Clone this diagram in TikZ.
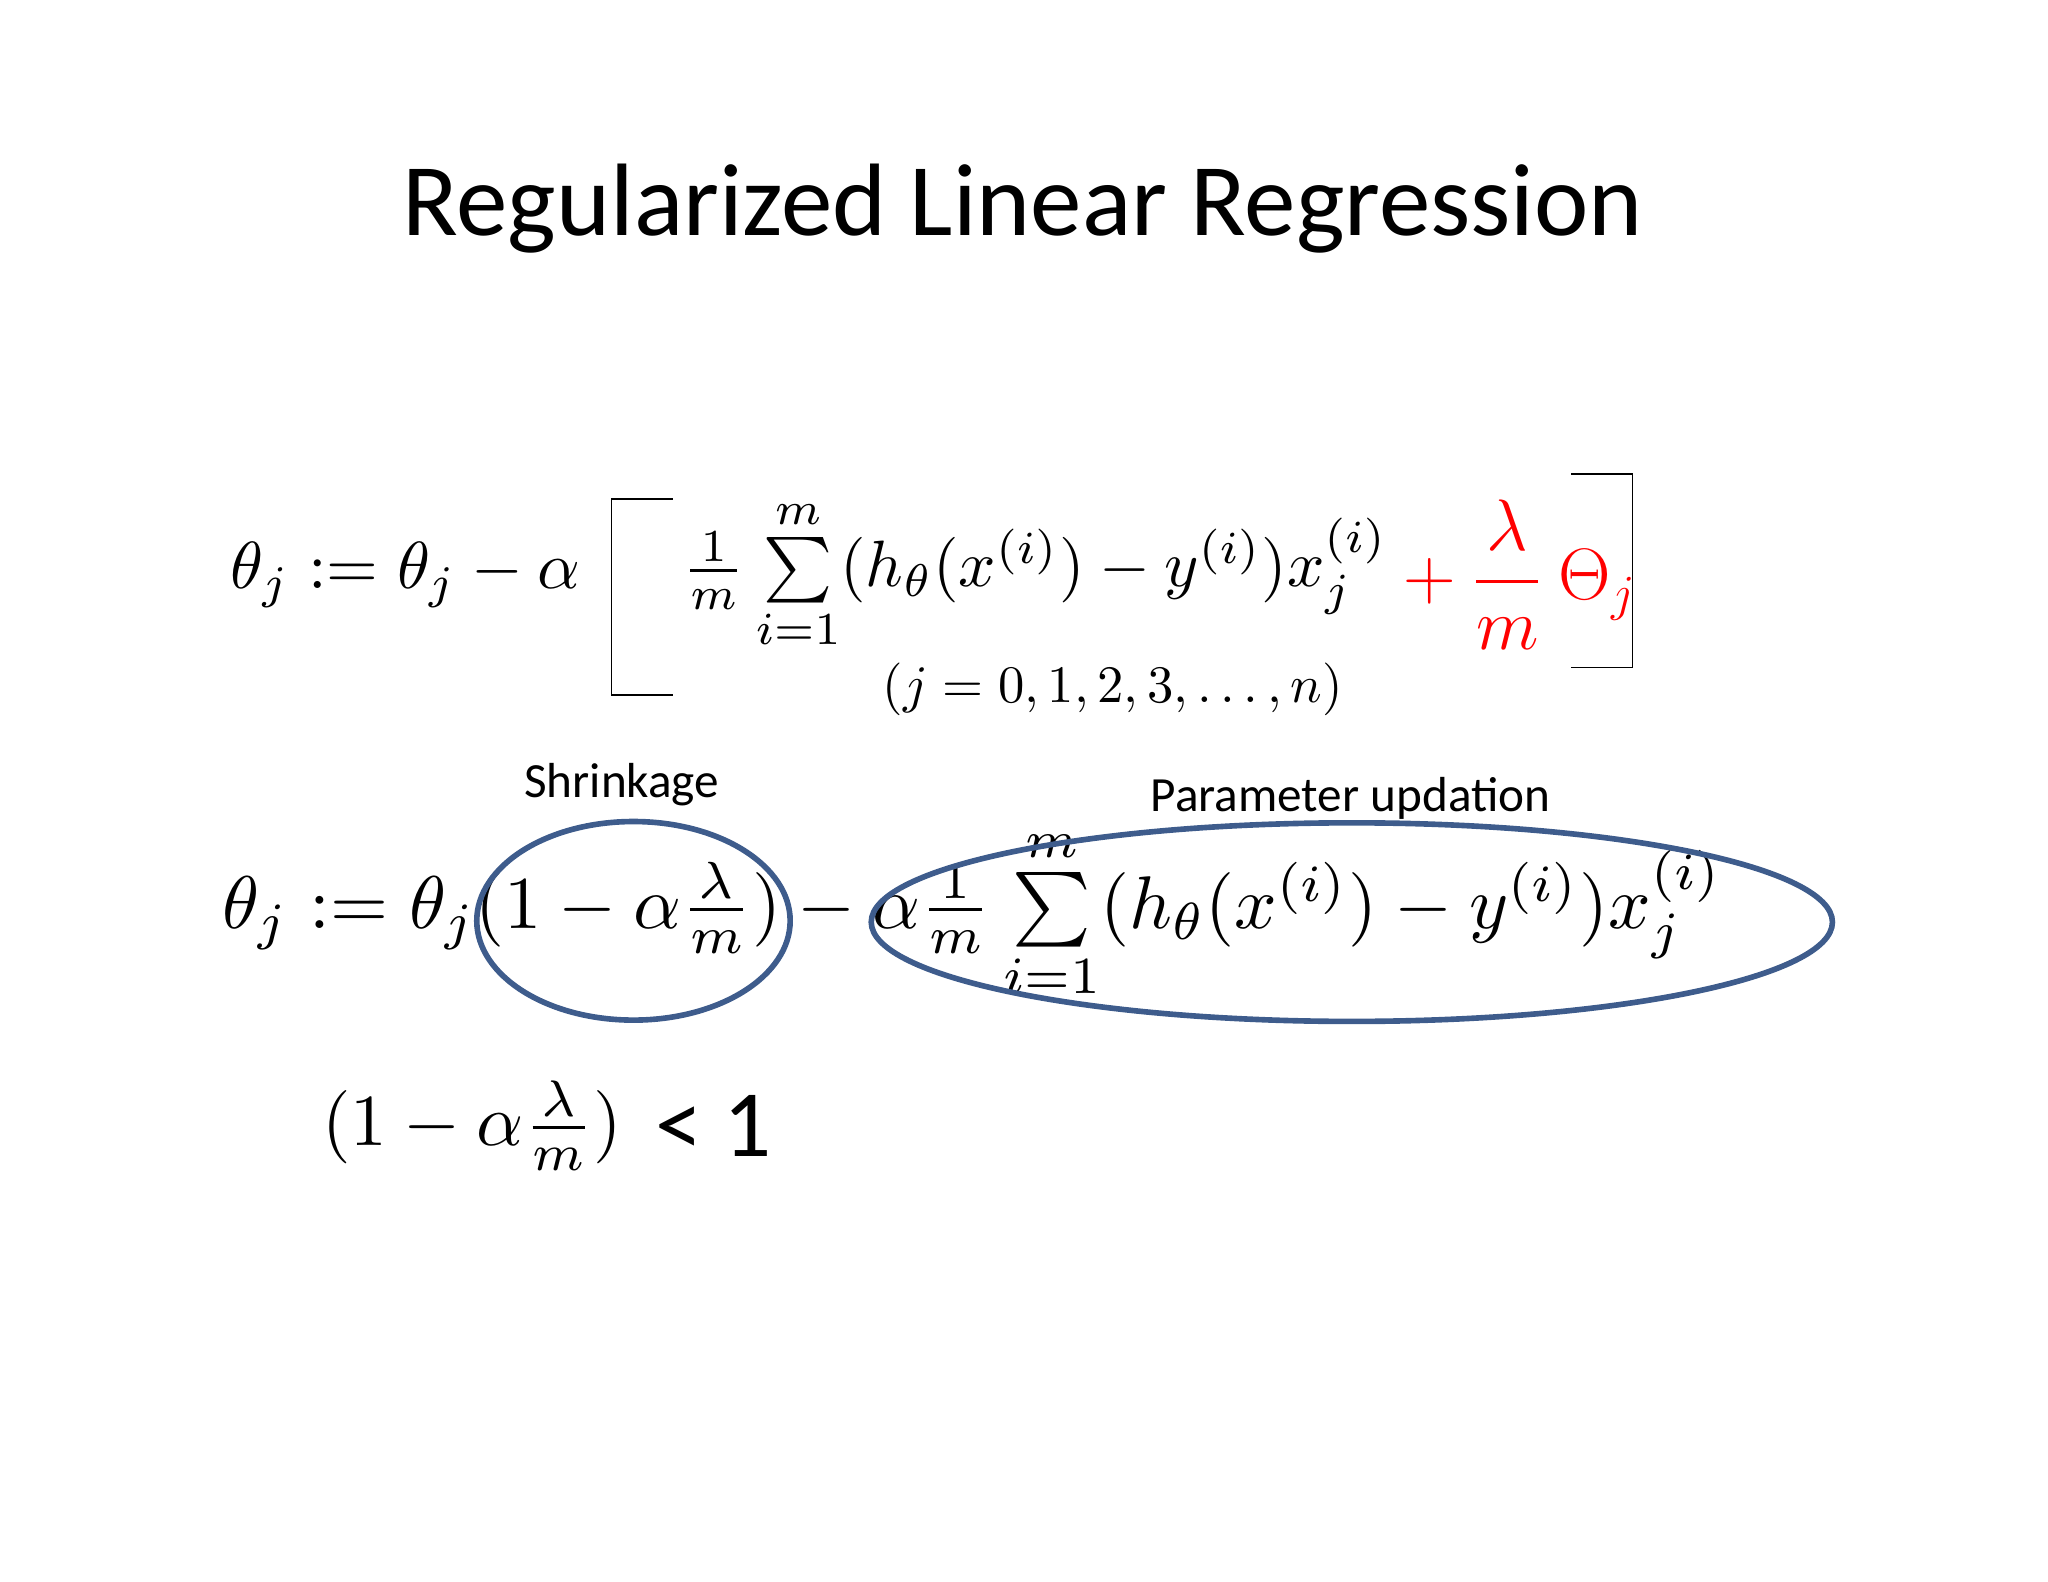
\documentclass[tikz,border=0pt]{standalone}
\usepackage{amsmath}
\usepackage{graphicx}
\usepackage{fontspec}
\setmainfont{Carlito}
\definecolor{ringblue}{RGB}{62,92,140}
\begin{document}
\begin{tikzpicture}[x=0.01306cm,y=-0.01306cm]
\tikzset{ring/.style={draw=ringblue,line width=1.6pt}}
\useasboundingbox (0,0) rectangle (1568,1211);
\node (title) at (783,160) {\fontsize{29.3}{36}\selectfont Regularized Linear Regression};
\node[anchor=west,inner sep=0] (lhs1) at (176,440) {\resizebox{3.5cm}{!}{$\theta_j := \theta_j - \alpha$}};
\draw (515,382) -- (468,382) -- (468,532) -- (515,532);
\draw (1203,363) -- (1250,363) -- (1250,511) -- (1203,511);
\node[anchor=west,inner sep=0] (sum1) at (522,440) {\resizebox{7.05cm}{!}{$\frac{1}{m}\sum\limits_{i=1}^{m}(h_\theta(x^{(i)})-y^{(i)})x_j^{(i)}$}};
\node[anchor=west,text=red] (reg) at (1065,440) {\fontsize{20}{24}\selectfont $+\ \dfrac{\lambda}{m}\ \Theta_j$};
\node[inner sep=0] (range) at (852,528) {\resizebox{4.6cm}{!}{$(j=0,1,2,3,\dots,n)$}};
\node (shr) at (476,601) {\fontsize{14}{17}\selectfont Shrinkage};
\node (par) at (1034,611) {\fontsize{14}{17}\selectfont Parameter updation};
\node[anchor=west,inner sep=0] (eq2) at (170,700) {\resizebox{15cm}{!}{$\theta_j := \theta_j(1-\alpha\frac{\lambda}{m}) - \alpha\frac{1}{m}\sum\limits_{i=1}^{m}(h_\theta(x^{(i)})-y^{(i)})x_j^{(i)}$}};
\coordinate (c1) at (485,705);
\coordinate (c2) at (1035,706);
\draw[ring] (c1) ellipse [x radius=1.567cm, y radius=0.993cm];
\draw[ring] (c2) ellipse [x radius=4.806cm, y radius=0.993cm];
\node[anchor=west,inner sep=0] (ineq) at (246,862) {\resizebox{3.0cm}{!}{$(1-\alpha\frac{\lambda}{m})$}};
\node[anchor=west] (lt) at (492,862) {\fontsize{27}{32}\selectfont < 1};
\end{tikzpicture}
\end{document}
